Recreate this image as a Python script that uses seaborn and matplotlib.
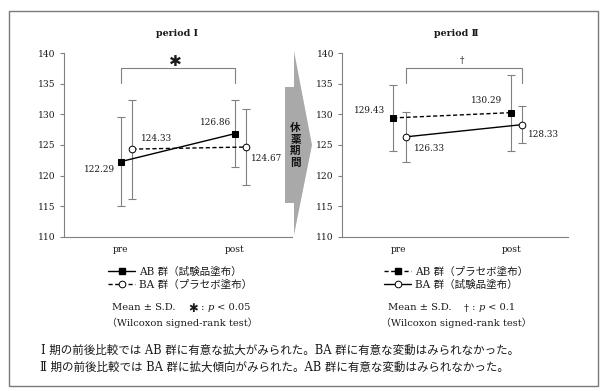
import numpy as np
import pandas as pd
import matplotlib
matplotlib.use('Agg')
import matplotlib.pyplot as plt
import seaborn as sns
from matplotlib.patches import Polygon, Rectangle
from matplotlib.lines import Line2D

# ---------------- data ----------------
categories = ['pre', 'post']
y_ticks = [110, 115, 120, 125, 130, 135, 140]
titles = ['period Ⅰ', 'period Ⅱ']

p1_ab_mean = [122.29, 126.86]
p1_ab_sd = [7.25, 5.50]
p1_ba_mean = [124.33, 124.67]
p1_ba_sd = [8.10, 6.25]

p2_ab_mean = [129.43, 130.29]
p2_ab_sd = [5.45, 6.23]
p2_ba_mean = [126.33, 128.33]
p2_ba_sd = [4.13, 3.05]

legend1 = ['AB 群（試験品塗布）', 'BA 群（プラセボ塗布）']
legend2 = ['AB 群（プラセボ塗布）', 'BA 群（試験品塗布）']
sig_marks = ['✱', '†']
p_thresholds = ['< 0.05', '< 0.1']
test_name = '（Wilcoxon signed-rank test）'
summary = ['Ⅰ 期の前後比較では AB 群に有意な拡大がみられた。BA 群に有意な変動はみられなかった。',
           'Ⅱ 期の前後比較では BA 群に拡大傾向がみられた。AB 群に有意な変動はみられなかった。']
washout = '休薬期間'

# ---------------- style ----------------
sns.set_style('white')
SERIF = ['DejaVu Serif', 'Noto Sans CJK JP']
plt.rcParams['font.family'] = SERIF
GREY = '#808080'
TXT = '#1a1a1a'
W, H = 600, 391

fig = plt.figure(figsize=(6.0, 3.91), dpi=100)


def fx(x):
    return x / W


def fy(y):
    return 1 - y / H


ax1 = fig.add_axes([fx(64), fy(236.7), fx(292 - 64), (236.7 - 53.3) / H])
ax2 = fig.add_axes([fx(342.3), fy(236.7), fx(568.3 - 342.3), (236.7 - 53.3) / H])

DASH = (0, (3, 1.8))


def draw_panel(ax, ab_mean, ab_sd, ba_mean, ba_sd, ab_x, ba_x,
               ab_ls, ba_ls, offsets, bracket_x):
    ax.errorbar(ab_x, ab_mean, yerr=ab_sd, fmt='none', ecolor=GREY,
                elinewidth=0.8, capsize=2.6, capthick=0.8, zorder=1)
    ax.errorbar(ba_x, ba_mean, yerr=ba_sd, fmt='none', ecolor=GREY,
                elinewidth=0.8, capsize=2.6, capthick=0.8, zorder=1)
    df_ab = pd.DataFrame({'x': ab_x, 'y': ab_mean})
    df_ba = pd.DataFrame({'x': ba_x, 'y': ba_mean})
    sns.lineplot(data=df_ab, x='x', y='y', ax=ax, color='black', linewidth=1.0,
                 linestyle=ab_ls, marker='s', markersize=4.6, markerfacecolor='black',
                 markeredgecolor='black', sort=False, errorbar=None, legend=False, zorder=3)
    sns.lineplot(data=df_ba, x='x', y='y', ax=ax, color='black', linewidth=1.0,
                 linestyle=ba_ls, marker='o', markersize=4.8, markerfacecolor='white',
                 markeredgecolor='black', markeredgewidth=0.7, sort=False,
                 errorbar=None, legend=False, zorder=3)
    pts = list(zip(ab_x, ab_mean)) + list(zip(ba_x, ba_mean))
    for (x, y), (dx, dy) in zip(pts, offsets):
        ax.annotate(f'{y:.2f}', (x, y), xytext=(dx, dy), textcoords='offset pixels',
                    ha='center', va='center', fontsize=6.4, color=TXT)
    b0, b1 = bracket_x
    ax.plot([b0, b0, b1, b1], [135.1, 137.55, 137.55, 135.1], color=GREY, lw=0.8,
            clip_on=False, zorder=2)
    ax.set_xlim(-0.5, 1.5)
    ax.set_ylim(110, 140)
    ax.set_yticks(y_ticks)
    ax.set_yticklabels([str(t) for t in y_ticks])
    ax.set_xticks([0, 1])
    ax.set_xticklabels(categories)
    ax.set_xticks([-0.5, 0.5, 1.5], minor=True)
    ax.tick_params(axis='x', which='major', length=0, pad=6, labelsize=6.6, labelcolor=TXT)
    ax.tick_params(axis='x', which='minor', length=3, width=0.8, color=GREY, direction='out')
    ax.tick_params(axis='y', length=3, width=0.8, color=GREY, direction='out', pad=3,
                   labelsize=6.6, labelcolor=TXT, left=True)
    for s in ['top', 'right']:
        ax.spines[s].set_visible(False)
    for s in ['left', 'bottom']:
        ax.spines[s].set_color(GREY)
        ax.spines[s].set_linewidth(0.8)
    ax.set_xlabel('')
    ax.set_ylabel('')
    ax.patch.set_alpha(0)


draw_panel(ax1, p1_ab_mean, p1_ab_sd, p1_ba_mean, p1_ba_sd,
           [0.0, 1.0], [0.1, 1.095], '-', DASH,
           [(-22, -8), (-20, 11), (24, 11), (21, -11)], (0.0, 1.0))
draw_panel(ax2, p2_ab_mean, p2_ab_sd, p2_ba_mean, p2_ba_sd,
           [-0.05, 0.99], [0.06, 1.09], DASH, '-',
           [(-24, 7), (-24, 12), (24, -12), (22, -10)], (0.06, 1.09))

# titles
fig.text(fx(177), fy(34), titles[0], ha='center', va='center', fontsize=6.8,
         fontweight='bold', color=TXT)
fig.text(fx(456), fy(34), titles[1], ha='center', va='center', fontsize=6.8,
         fontweight='bold', color=TXT)
# significance marks above brackets
fig.text(fx(175), fy(61), sig_marks[0], ha='center', va='center', fontsize=11,
         family=['DejaVu Sans'], color=TXT)
fig.text(fx(462), fy(60), sig_marks[1], ha='center', va='center', fontsize=6.5,
         color=TXT)

# washout arrow
arrow_px = [(285, 87), (294, 87), (294, 51), (312, 145), (294, 235), (294, 203), (285, 203)]
fig.add_artist(Polygon([(fx(x), fy(y)) for x, y in arrow_px], closed=True,
                       transform=fig.transFigure, facecolor='#a9a9a9', edgecolor='none'))
for i, ch in enumerate(washout):
    fig.text(fx(295.5), fy(128.0 + 11.5 * i), ch, ha='center', va='center', fontsize=7.6,
             family=['Noto Sans CJK JP'], fontweight='bold', color='#111111')


# legends
def make_handles(ab_ls, ba_ls):
    h_ab = Line2D([], [], color='black', lw=1.0, linestyle=ab_ls, marker='s',
                  markersize=4.6, mfc='black', mec='black')
    h_ba = Line2D([], [], color='black', lw=1.0, linestyle=ba_ls, marker='o',
                  markersize=4.8, mfc='white', mec='black', mew=0.7)
    return [h_ab, h_ba]


leg_kw = dict(frameon=False, fontsize=7.6, handlelength=2.6, handletextpad=0.35,
              labelspacing=0.25, borderpad=0, borderaxespad=0, loc='center left')
lg1 = fig.legend(make_handles('-', DASH), legend1, bbox_to_anchor=(fx(108), fy(278.5)), **leg_kw)
lg2 = fig.legend(make_handles(DASH, '-'), legend2, bbox_to_anchor=(fx(384), fy(278.5)), **leg_kw)
for lg in (lg1, lg2):
    for t in lg.get_texts():
        t.set_color(TXT)


# stats notes built from chained pieces
def stat_line(x0, y0, mark, mark_family, mark_size, thr):
    fs = 7.1
    prev = fig.text(fx(x0), fy(y0), 'Mean ± S.D.    ', ha='left', va='center',
                    fontsize=fs, color=TXT)
    pieces = [(mark, dict(fontsize=mark_size, family=mark_family)),
              (' : ', dict(fontsize=fs)),
              ('p', dict(fontsize=fs, style='italic')),
              (' ' + thr, dict(fontsize=fs))]
    for txt, kw in pieces:
        prev = ax1.annotate(txt, xy=(1, 0.5), xycoords=prev, ha='left', va='center',
                            color=TXT, annotation_clip=False, **kw)


stat_line(112, 308, sig_marks[0], ['DejaVu Sans'], 8.4, p_thresholds[0])
stat_line(388, 308, sig_marks[1], SERIF, 7.1, p_thresholds[1])
fig.text(fx(182), fy(323), test_name, ha='center', va='center', fontsize=7.1, color=TXT)
fig.text(fx(456), fy(323), test_name, ha='center', va='center', fontsize=7.1, color=TXT)

# summary lines
fig.text(fx(41), fy(350), summary[0], ha='left', va='center', fontsize=8.3, color=TXT)
fig.text(fx(40), fy(367.5), summary[1], ha='left', va='center', fontsize=8.3, color=TXT)

# frame
fig.add_artist(Rectangle((fx(9), fy(386)), fx(598 - 9), (386 - 11) / H, transform=fig.transFigure,
                         fill=False, edgecolor='#7a7a7a', lw=1.0))

fig.savefig('out.png', dpi=100, facecolor='white')
